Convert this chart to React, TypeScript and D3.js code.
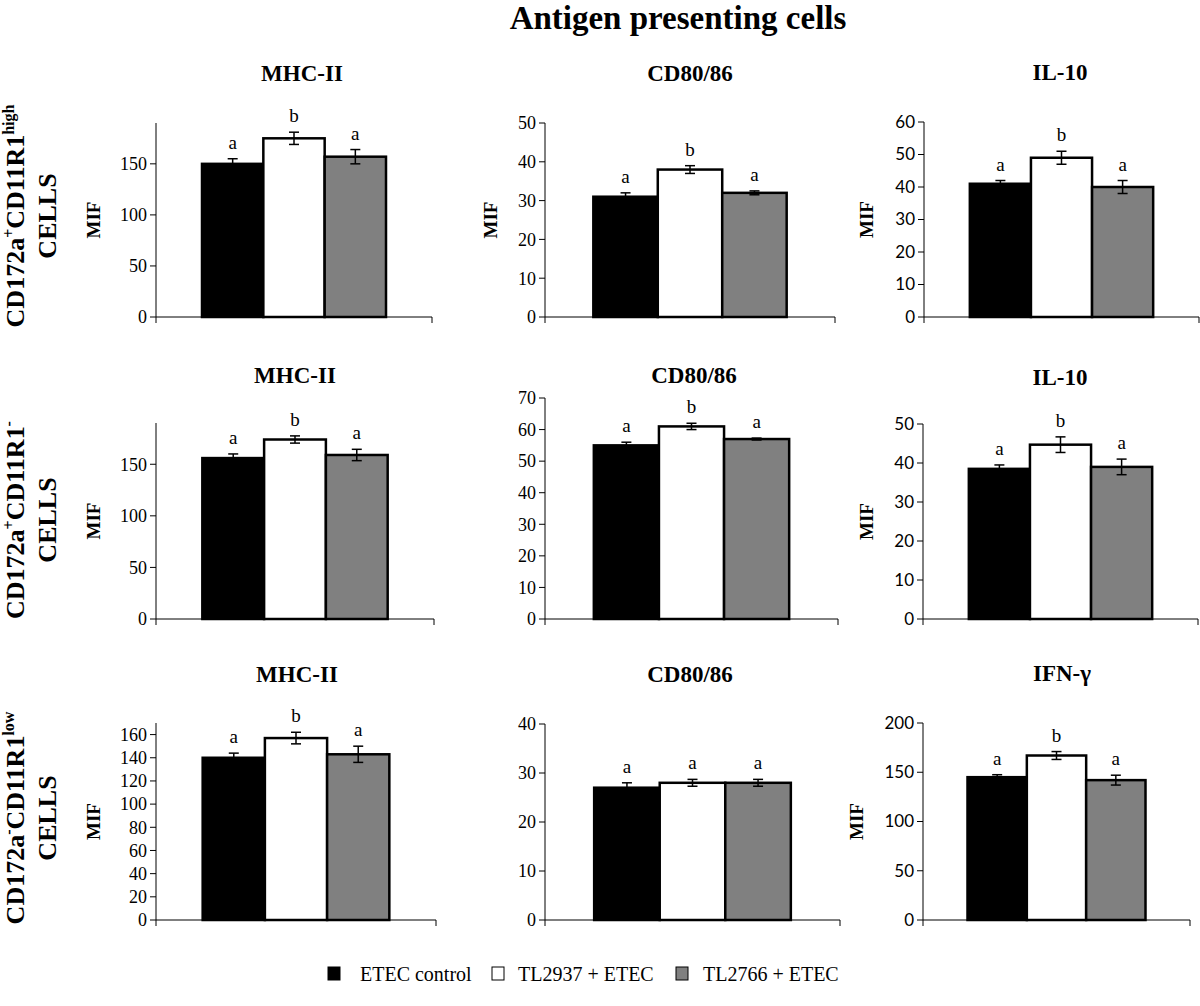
import React from "react";
import * as d3 from "d3";

// ---------- DATA ----------
const series = ["ETEC control", "TL2937 + ETEC", "TL2766 + ETEC"];
const seriesColors = ["#000000", "#ffffff", "#808080"];
const panelTitles = ["MHC-II", "CD80/86", "IL-10", "MHC-II", "CD80/86", "IL-10", "MHC-II", "CD80/86", "IFN-γ"];
const means = [
  [150, 175, 157],
  [31, 38, 32],
  [41, 49, 40],
  [156, 174, 159],
  [55, 61, 57],
  [38.5, 44.7, 39],
  [140, 157, 143],
  [27, 28, 28],
  [145, 167, 142],
];
const errors = [
  [5, 6, 7],
  [1, 1, 0.5],
  [1, 2, 2],
  [4, 3.5, 5.5],
  [1, 1, 0.3],
  [1, 2, 2],
  [4, 5, 7],
  [1, 0.7, 0.7],
  [2.5, 4, 5],
];
const letters = [
  ["a", "b", "a"],
  ["a", "b", "a"],
  ["a", "b", "a"],
  ["a", "b", "a"],
  ["a", "b", "a"],
  ["a", "b", "a"],
  ["a", "b", "a"],
  ["a", "a", "a"],
  ["a", "b", "a"],
];
const yMax = [190, 50, 60, 190, 70, 50, 170, 40, 200];
const yStep = [50, 10, 10, 50, 10, 10, 20, 10, 50];
const showMIF = [true, true, true, true, false, true, true, false, true];
const mainTitle = "Antigen presenting cells";
const rowLabels = [
  { a: "CD172a", s1: "+", b: "CD11R1", s2: "high" },
  { a: "CD172a", s1: "+", b: "CD11R1", s2: "-" },
  { a: "CD172a", s1: "-", b: "CD11R1", s2: "low" },
];

// ---------- LAYOUT ----------
const layout = [
  { x0: 156, x1: 432, y0: 317, yTop: 123, tx: 302, ty: 81, mx: 100 },
  { x0: 545, x1: 835, y0: 317, yTop: 123, tx: 690, ty: 81, mx: 497 },
  { x0: 924, x1: 1199, y0: 317, yTop: 122, tx: 1060, ty: 80, mx: 873 },
  { x0: 156, x1: 434, y0: 619, yTop: 423, tx: 295, ty: 383, mx: 100 },
  { x0: 545, x1: 838, y0: 619, yTop: 398, tx: 694, ty: 383, mx: 497 },
  { x0: 923, x1: 1198, y0: 619, yTop: 424, tx: 1060, ty: 385, mx: 873 },
  { x0: 156, x1: 436, y0: 920, yTop: 723, tx: 297, ty: 682, mx: 100 },
  { x0: 545, x1: 840, y0: 920, yTop: 724, tx: 690, ty: 682, mx: 497 },
  { x0: 923, x1: 1190, y0: 920, yTop: 723, tx: 1062, ty: 681, mx: 863 },
];
const rowCenters = [216, 520, 818];
const legendX = [328, 492, 676];
const legendTextX = [360, 518, 703];

const SERIF = "'Liberation Serif', 'Times New Roman', serif";
const SANS = "Lato, 'Open Sans', sans-serif";

function Panel({ i }: { i: number }) {
  const L = layout[i];
  const y = d3.scaleLinear().domain([0, yMax[i]]).range([L.y0, L.yTop]);
  const xOuter = d3.scaleBand().domain([panelTitles[i]]).range([L.x0, L.x1]).paddingInner(0).paddingOuter(0.25);
  const xInner = d3.scaleBand().domain(series).range([0, xOuter.bandwidth()]);
  const ticks = d3.range(0, yMax[i] + 0.001, yStep[i]);
  const isSans = i % 3 === 2;
  const tickFont = isSans ? SANS : SERIF;
  const base = xOuter(panelTitles[i]) as number;
  return (
    <g>
      <text x={L.tx} y={L.ty} textAnchor="middle" fontFamily={SERIF} fontWeight="bold" fontSize={23}>
        {panelTitles[i]}
      </text>
      {showMIF[i] && (
        <text
          transform={`translate(${L.mx},${(L.y0 + L.yTop) / 2}) rotate(-90)`}
          textAnchor="middle"
          fontFamily={SERIF}
          fontWeight="bold"
          fontSize={19}
        >
          MIF
        </text>
      )}
      {series.map((s, j) => {
        const v = means[i][j];
        const bx = base + (xInner(s) as number);
        return (
          <rect
            key={s}
            x={bx}
            y={y(v)}
            width={xInner.bandwidth()}
            height={L.y0 - y(v)}
            fill={seriesColors[j]}
            stroke="#000"
            strokeWidth={2.5}
          />
        );
      })}
      {/* y axis */}
      <line x1={L.x0} x2={L.x0} y1={L.y0} y2={L.yTop} stroke="#000" strokeWidth={1} />
      {ticks.map((t) => (
        <g key={t}>
          <line x1={L.x0 - 6} x2={L.x0} y1={y(t)} y2={y(t)} stroke="#000" strokeWidth={1} />
          <text x={L.x0 - 9} y={y(t)} dy="0.35em" textAnchor="end" fontFamily={tickFont} fontSize={isSans ? 17 : 18}>
            {t}
          </text>
        </g>
      ))}
      {/* x axis */}
      <path d={`M${L.x0},${L.y0 + 6}V${L.y0}H${L.x1}V${L.y0 + 6}`} fill="none" stroke="#000" strokeWidth={1} />
      {series.map((s, j) => {
        const v = means[i][j];
        const e = errors[i][j];
        const cx = base + (xInner(s) as number) + xInner.bandwidth() / 2;
        return (
          <g key={s}>
            <line x1={cx} x2={cx} y1={y(v - e)} y2={y(v + e)} stroke="#000" strokeWidth={1.5} />
            <line x1={cx - 5} x2={cx + 5} y1={y(v - e)} y2={y(v - e)} stroke="#000" strokeWidth={1.5} />
            <line x1={cx - 5} x2={cx + 5} y1={y(v + e)} y2={y(v + e)} stroke="#000" strokeWidth={1.5} />
            <text x={cx} y={y(v + e) - 10} textAnchor="middle" fontFamily={SERIF} fontSize={19}>
              {letters[i][j]}
            </text>
          </g>
        );
      })}
    </g>
  );
}

function RowLabel({ r }: { r: number }) {
  const lab = rowLabels[r];
  const cy = rowCenters[r];
  return (
    <g fontFamily={SERIF} fontWeight="bold">
      <text transform={`translate(24,${cy}) rotate(-90)`} textAnchor="middle" fontSize={26}>
        {lab.a}
        <tspan dy={-10} fontSize={16}>{lab.s1}</tspan>
        <tspan dy={10}>{lab.b}</tspan>
        <tspan dy={-10} fontSize={16}>{lab.s2}</tspan>
      </text>
      <text transform={`translate(56,${cy}) rotate(-90)`} textAnchor="middle" fontSize={26}>
        CELLS
      </text>
    </g>
  );
}

export default function App() {
  return (
    <svg
      width={1200}
      height={1006}
      style={{ position: "absolute", left: 0, top: 0, background: "#fff" }}
    >
      <rect x={0} y={0} width={1200} height={1006} fill="#fff" />
      <text x={678} y={29} textAnchor="middle" fontFamily={SERIF} fontWeight="bold" fontSize={33}>
        {mainTitle}
      </text>
      {[0, 1, 2].map((r) => (
        <RowLabel key={r} r={r} />
      ))}
      {panelTitles.map((_, i) => (
        <Panel key={i} i={i} />
      ))}
      {series.map((s, j) => (
        <g key={s}>
          <rect x={legendX[j]} y={967} width={12} height={13} fill={seriesColors[j]} stroke="#000" strokeWidth={1} />
          <text x={legendTextX[j]} y={981} fontFamily={SERIF} fontSize={20}>
            {s}
          </text>
        </g>
      ))}
    </svg>
  );
}
